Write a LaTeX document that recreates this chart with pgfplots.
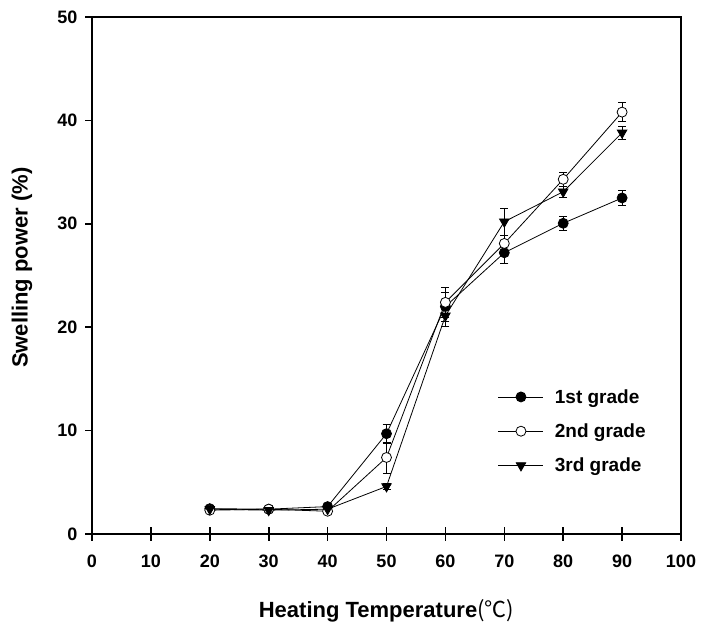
\documentclass[border=0pt]{standalone}
\usepackage{fontspec}
\setmainfont{Liberation Sans}
\newfontfamily\cjk{Noto Sans CJK KR}
\usepackage{pgfplots}
\usepackage{pgfplotstable}
\pgfplotsset{compat=1.18}

\pgfplotstableread{
x y e
20 2.45 0.15
30 2.4 0.1
40 2.65 0.15
50 9.7 0.9
60 22.0 1.4
70 27.2 1.0
80 30.05 0.7
90 32.5 0.75
}\first
\pgfplotstableread{
x y e
20 2.3 0.1
30 2.4 0.1
40 2.2 0.1
50 7.4 1.5
60 22.4 1.45
70 28.1 0.8
80 34.3 0.65
90 40.8 0.9
}\second
\pgfplotstableread{
x y e
20 2.4 0.1
30 2.3 0.1
40 2.4 0.1
50 4.6 0.3
60 21.1 1.0
70 30.2 1.3
80 33.1 0.5
90 38.8 0.6
}\third

\begin{document}
\begin{tikzpicture}
\begin{axis}[
  scale only axis, width=589pt, height=517pt,
  xmin=0, xmax=100, ymin=0, ymax=50,
  xtick={0,10,...,100}, ytick={0,10,...,50},
  axis line style={line width=2pt},
  tick style={line width=1.6pt, black},
  major tick length=7pt,
  xtick pos=bottom, ytick pos=left,
  tick align=outside,
  extra x ticks={0,10,...,100}, extra x tick labels={},
  extra x tick style={tick align=inside},
  tick label style={font=\fontsize{18}{20}\selectfont\bfseries},
  xticklabel style={yshift=-10pt},
  yticklabel style={xshift=-4pt},
  /pgf/number format/assume math mode=true,
  label style={font=\fontsize{22}{26}\selectfont\bfseries},
  xlabel={Heating Temperature{\cjk\mdseries (℃)}},
  ylabel={Swelling power (\%)},
  xlabel style={at={(axis description cs:0.5,-0.149)}, anchor=center},
  ylabel style={at={(axis description cs:-0.119,0.515)}, anchor=center},
  legend style={at={(axis cs:68.4,14.4)}, anchor=north west, draw=none, fill=none,
    font=\fontsize{19}{22}\selectfont\bfseries, row sep=15pt, column sep=9pt,
    cells={anchor=west}},
  legend image code/.code={\draw[mark repeat=2,mark phase=2] plot coordinates {(0pt,0pt)(22.5pt,0pt)(45pt,0pt)};},
  every axis plot/.append style={black, line width=0.8pt},
  error bars/y dir=both, error bars/y explicit,
  error bars/error mark options={rotate=90, mark size=4pt, line width=0.8pt, black},
  error bars/error bar style={line width=0.8pt, black},
]
\addplot[mark=*, mark size=5pt, mark options={fill=black}] table[x=x, y=y, y error=e] {\first};
\addlegendentry{1st grade}
\addplot[mark=*, mark size=5pt, mark options={fill=white}] table[x=x, y=y, y error=e] {\second};
\addlegendentry{2nd grade}
\addplot[mark=triangle*, mark size=5.5pt, mark options={fill=black, rotate=180}] table[x=x, y=y, y error=e] {\third};
\addlegendentry{3rd grade}
\coordinate (BL) at (rel axis cs:0,0);
\coordinate (TR) at (rel axis cs:1,1);
\end{axis}
\pgfresetboundingbox
\path ([shift={(-92pt,-96pt)}]BL) rectangle ([shift={(20pt,17pt)}]TR);
\end{tikzpicture}
\end{document}
